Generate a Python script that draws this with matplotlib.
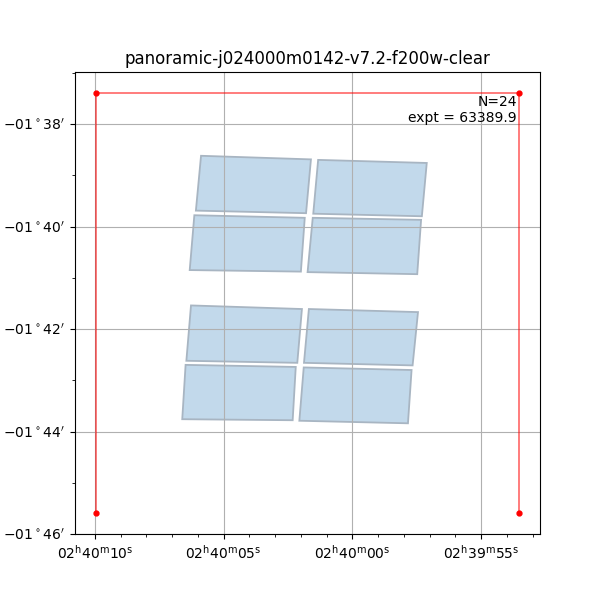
import matplotlib
matplotlib.use("Agg")
import matplotlib.pyplot as plt
from matplotlib.patches import Polygon
from matplotlib.ticker import MultipleLocator

title = "panoramic-j024000m0142-v7.2-f200w-clear"
n_exp = 24
expt = 63389.9

# RA in seconds relative to 02h40m00s, Dec in arcmin relative to -01d00'
det_ra = [
    [5.88, 1.61, 1.80, 6.08],
    [1.33, -2.89, -2.70, 1.52],
    [6.14, 1.85, 2.00, 6.32],
    [1.54, -2.67, -2.52, 1.74],
    [6.27, 1.96, 2.14, 6.45],
    [1.69, -2.55, -2.34, 1.88],
    [6.48, 2.20, 2.32, 6.61],
    [1.89, -2.30, -2.16, 2.06],
]
det_dec = [
    [-38.62, -38.69, -39.74, -39.69],
    [-38.70, -38.76, -39.80, -39.75],
    [-39.78, -39.83, -40.88, -40.85],
    [-39.83, -39.87, -40.93, -40.89],
    [-41.54, -41.61, -42.66, -42.62],
    [-41.61, -41.67, -42.71, -42.66],
    [-42.70, -42.74, -43.78, -43.76],
    [-42.75, -42.80, -43.84, -43.79],
]
# open outline: bottom-left -> top-left -> top-right -> bottom-right
box_ra = [9.96, 9.96, -6.48, -6.48]
box_dec = [-45.59, -37.40, -37.40, -45.59]

ra_ticks = [10, 5, 0, -5]
ra_labels = [r"$02^{\mathrm{h}}40^{\mathrm{m}}10^{\mathrm{s}}$",
             r"$02^{\mathrm{h}}40^{\mathrm{m}}05^{\mathrm{s}}$",
             r"$02^{\mathrm{h}}40^{\mathrm{m}}00^{\mathrm{s}}$",
             r"$02^{\mathrm{h}}39^{\mathrm{m}}55^{\mathrm{s}}$"]
dec_ticks = [-38, -40, -42, -44, -46]
dec_labels = [r"$-01^\circ38^\prime$", r"$-01^\circ40^\prime$",
              r"$-01^\circ42^\prime$", r"$-01^\circ44^\prime$",
              r"$-01^\circ46^\prime$"]

fig, ax = plt.subplots(figsize=(6, 6), dpi=100)

for ras, decs in zip(det_ra, det_dec):
    poly = Polygon(list(zip(ras, decs)), closed=True,
                   facecolor=(0.76, 0.85, 0.92), edgecolor=(0.66, 0.71, 0.76),
                   linewidth=1.3, zorder=1)
    ax.add_patch(poly)

ax.plot(box_ra, box_dec, color="red", alpha=0.6, linewidth=1.2, zorder=2)
ax.plot(box_ra, box_dec, "o", color="red", markersize=3.5, linestyle="none", zorder=3)

ax.set_xlim(10.777, -7.29)
ax.set_ylim(-46, -36.985)
ax.set_xticks(ra_ticks)
ax.set_xticklabels(ra_labels)
ax.set_yticks(dec_ticks)
ax.set_yticklabels(dec_labels)
ax.xaxis.set_minor_locator(MultipleLocator(1))
ax.yaxis.set_minor_locator(MultipleLocator(1))
ax.grid(True, color="#b0b0b0")
ax.tick_params(labelsize=10)

ax.text(0.95, 0.95, f"N={n_exp}\nexpt = {expt:.1f}", transform=ax.transAxes,
        ha="right", va="top", fontsize=10)
ax.set_title(title)

fig.savefig("out.png", dpi=100)
